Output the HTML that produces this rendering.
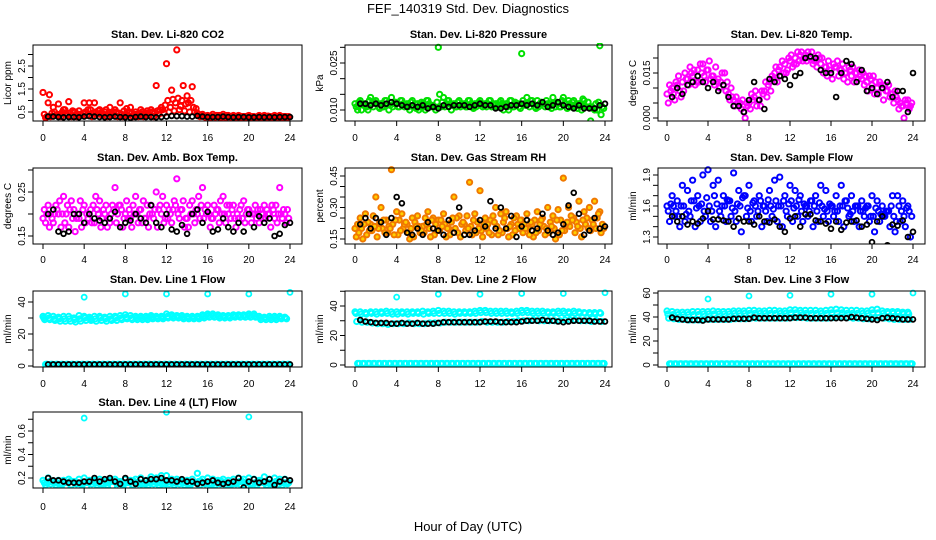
<!DOCTYPE html>
<html><head><meta charset="utf-8"><style>
html,body{margin:0;padding:0;background:#fff;}
svg{display:block;font-family:"Liberation Sans",sans-serif;}
</style></head><body>
<svg id="chart" width="936" height="540" viewBox="0 0 936 540" xmlns="http://www.w3.org/2000/svg">
<text x="468" y="13" text-anchor="middle" font-size="13">FEF_140319  Std. Dev. Diagnostics</text>
<text x="468" y="531" text-anchor="middle" font-size="13">Hour of Day (UTC)</text>
</svg>
<script>
// ---------- data ----------
const xTicks = [0,4,8,12,16,20,24];
const titles = ["Stan. Dev. Li-820 CO2","Stan. Dev. Li-820 Pressure","Stan. Dev. Li-820 Temp.","Stan. Dev. Amb. Box Temp.","Stan. Dev. Gas Stream RH","Stan. Dev. Sample Flow","Stan. Dev. Line 1 Flow","Stan. Dev. Line 2 Flow","Stan. Dev. Line 3 Flow","Stan. Dev. Line 4 (LT) Flow"];
const yTitles = ["Licor ppm","kPa","degrees C","degrees C","percent","ml/min","ml/min","ml/min","ml/min","ml/min"];

const co2A=[1.35,0.9,0.7,0.85,0.6,0.95,0.5,0.55,0.9,0.9,0.9,0.6,0.5,0.7,0.6,0.9,0.4,0.7,0.5,0.6,0.45,0.6,1.65,0.7,2.6,1.45,3.2,1.0,1.2,1.6,0.45,0.4,0.35,0.4,0.35,0.4,0.35,0.35,0.35,0.3,0.35,0.3,0.35,0.35,0.3,0.35,0.35,0.3];
const co2B=[0.4,1.25,0.5,0.4,0.6,0.45,0.5,0.4,0.5,0.6,0.5,0.45,0.6,0.4,0.5,0.4,0.65,0.45,0.4,0.5,0.55,0.5,0.55,0.6,1.0,1.05,1.1,1.65,0.9,0.7,0.4,0.35,0.3,0.3,0.35,0.3,0.3,0.3,0.32,0.3,0.3,0.28,0.3,0.3,0.3,0.3,0.3,0.3];
const co2C=[0.25,0.3,0.35,0.3,0.4,0.3,0.3,0.35,0.35,0.3,0.4,0.35,0.3,0.35,0.3,0.3,0.35,0.3,0.3,0.3,0.35,0.3,0.4,0.45,0.5,0.55,0.6,0.55,0.5,0.5,0.3,0.28,0.25,0.28,0.25,0.25,0.28,0.25,0.25,0.25,0.25,0.25,0.25,0.25,0.25,0.25,0.25,0.25];
const co2D=[0.3,0.45,0.4,0.5,0.35,0.55,0.4,0.45,0.6,0.45,0.55,0.4,0.45,0.5,0.45,0.55,0.5,0.4,0.45,0.4,0.5,0.45,0.6,0.8,0.7,0.9,0.75,0.85,1.0,0.65,0.35,0.3,0.3,0.35,0.3,0.35,0.3,0.3,0.3,0.32,0.3,0.3,0.3,0.32,0.3,0.3,0.3,0.3];
const co2Black=[0.3,0.3,0.28,0.27,0.28,0.28,0.27,0.3,0.32,0.3,0.28,0.27,0.28,0.3,0.28,0.27,0.25,0.28,0.3,0.28,0.28,0.27,0.28,0.3,0.33,0.32,0.32,0.3,0.3,0.33,0.3,0.28,0.28,0.28,0.3,0.28,0.27,0.28,0.28,0.27,0.27,0.28,0.27,0.28,0.27,0.28,0.28,0.28];

const presA=[0.012,0.013,0.012,0.014,0.013,0.012,0.013,0.014,0.012,0.013,0.012,0.013,0.012,0.012,0.013,0.011,0.030,0.014,0.013,0.012,0.013,0.012,0.013,0.012,0.013,0.012,0.013,0.012,0.013,0.012,0.013,0.012,0.028,0.014,0.013,0.013,0.012,0.012,0.014,0.012,0.014,0.013,0.013,0.012,0.013,0.011,0.010,0.0305];
const presB=[0.011,0.010,0.011,0.012,0.012,0.011,0.012,0.011,0.011,0.012,0.011,0.011,0.010,0.011,0.012,0.011,0.015,0.011,0.012,0.011,0.011,0.011,0.012,0.011,0.012,0.011,0.011,0.011,0.012,0.011,0.011,0.012,0.013,0.012,0.012,0.011,0.012,0.011,0.012,0.011,0.012,0.012,0.011,0.012,0.011,0.0065,0.012,0.0085];
const presC=[0.010,0.012,0.010,0.011,0.011,0.011,0.010,0.012,0.011,0.011,0.010,0.012,0.011,0.010,0.011,0.010,0.011,0.012,0.010,0.011,0.012,0.011,0.011,0.012,0.011,0.012,0.012,0.011,0.010,0.010,0.011,0.011,0.012,0.011,0.011,0.012,0.011,0.012,0.011,0.011,0.012,0.011,0.012,0.010,0.011,0.011,0.010,0.011];
const presD=[0.0125,0.0115,0.013,0.0125,0.0105,0.013,0.0115,0.0125,0.013,0.0115,0.0125,0.0105,0.0125,0.013,0.0115,0.0125,0.0125,0.013,0.0115,0.0125,0.0115,0.013,0.0105,0.0125,0.0115,0.013,0.0115,0.0125,0.0115,0.013,0.0125,0.0105,0.0115,0.013,0.0105,0.0125,0.013,0.0105,0.0125,0.013,0.0105,0.0125,0.0105,0.0135,0.0125,0.0105,0.0125,0.0105];
const presBlack=[0.012,0.012,0.0115,0.012,0.0115,0.012,0.0125,0.012,0.0115,0.011,0.0115,0.011,0.0115,0.0105,0.011,0.0105,0.0115,0.011,0.0115,0.0115,0.0115,0.011,0.0115,0.012,0.0115,0.0115,0.0105,0.0105,0.011,0.0115,0.0115,0.012,0.0115,0.012,0.0115,0.0125,0.011,0.0115,0.0125,0.0115,0.011,0.0105,0.0115,0.0105,0.0105,0.0105,0.0115,0.012];

const ltA=[0.008,0.01,0.011,0.012,0.013,0.014,0.016,0.018,0.016,0.014,0.013,0.011,0.008,0.006,0.004,0.002,0.005,0.007,0.006,0.009,0.012,0.015,0.017,0.018,0.019,0.02,0.021,0.021,0.02,0.019,0.018,0.017,0.016,0.017,0.016,0.015,0.014,0.015,0.013,0.012,0.011,0.01,0.01,0.009,0.008,0.006,0.004,0.006];
const ltB=[0.005,0.008,0.014,0.009,0.011,0.016,0.012,0.014,0.019,0.011,0.01,0.015,0.006,0.004,0.005,0.0,0.003,0.009,0.004,0.012,0.009,0.017,0.014,0.015,0.021,0.018,0.022,0.019,0.022,0.017,0.02,0.014,0.013,0.019,0.018,0.012,0.017,0.013,0.015,0.009,0.014,0.008,0.006,0.011,0.005,0.003,0.0,0.003];
const ltC=[0.011,0.006,0.009,0.015,0.017,0.011,0.018,0.012,0.013,0.017,0.012,0.009,0.01,0.007,0.003,0.005,0.008,0.004,0.009,0.007,0.014,0.012,0.019,0.016,0.017,0.022,0.019,0.022,0.018,0.021,0.015,0.019,0.018,0.014,0.013,0.017,0.012,0.016,0.011,0.014,0.008,0.012,0.011,0.007,0.009,0.005,0.006,0.004];
const ltD=[0.009,0.012,0.007,0.013,0.015,0.012,0.015,0.016,0.014,0.012,0.015,0.012,0.007,0.005,0.006,0.004,0.006,0.006,0.008,0.011,0.013,0.016,0.015,0.02,0.018,0.019,0.02,0.02,0.019,0.02,0.017,0.016,0.017,0.016,0.015,0.016,0.015,0.014,0.014,0.013,0.012,0.011,0.009,0.008,0.007,0.004,0.005,0.005];
const ltBlack=[0.007,0.01,0.008,0.011,0.012,0.014,0.012,0.01,0.012,0.009,0.011,0.007,0.004,0.004,0.002,0.006,0.012,0.006,0.003,0.013,0.012,0.014,0.013,0.011,0.014,0.015,0.02,0.0205,0.02,0.016,0.015,0.015,0.007,0.015,0.019,0.018,0.012,0.016,0.009,0.01,0.008,0.01,0.012,0.007,0.009,0.009,0.002,0.015];

const ambA=[0.19,0.22,0.18,0.2,0.24,0.17,0.21,0.19,0.22,0.2,0.18,0.23,0.2,0.18,0.26,0.22,0.2,0.19,0.24,0.21,0.19,0.22,0.25,0.2,0.22,0.18,0.28,0.21,0.19,0.23,0.2,0.26,0.22,0.19,0.21,0.24,0.2,0.22,0.19,0.23,0.21,0.2,0.18,0.22,0.2,0.19,0.26,0.2];
const ambB=[0.21,0.17,0.2,0.23,0.18,0.21,0.16,0.23,0.18,0.21,0.24,0.17,0.22,0.2,0.18,0.21,0.23,0.17,0.2,0.18,0.22,0.2,0.17,0.24,0.19,0.21,0.2,0.23,0.17,0.2,0.24,0.19,0.2,0.22,0.18,0.2,0.22,0.19,0.21,0.18,0.2,0.22,0.21,0.19,0.17,0.22,0.2,0.18];
const ambC=[0.18,0.2,0.22,0.17,0.2,0.23,0.19,0.17,0.2,0.18,0.21,0.19,0.17,0.22,0.2,0.17,0.19,0.22,0.18,0.23,0.17,0.19,0.21,0.18,0.21,0.23,0.19,0.17,0.22,0.18,0.19,0.21,0.17,0.2,0.23,0.18,0.19,0.17,0.22,0.2,0.18,0.19,0.2,0.21,0.22,0.18,0.19,0.21];
const ambD=[0.2,0.19,0.21,0.2,0.22,0.19,0.2,0.21,0.19,0.22,0.2,0.21,0.19,0.21,0.22,0.19,0.21,0.2,0.21,0.19,0.2,0.21,0.22,0.19,0.2,0.22,0.21,0.19,0.2,0.21,0.22,0.2,0.19,0.21,0.2,0.22,0.21,0.2,0.19,0.21,0.2,0.21,0.19,0.2,0.21,0.2,0.21,0.19];
const ambBlack=[0.2,0.21,0.16,0.155,0.16,0.2,0.2,0.18,0.2,0.19,0.185,0.18,0.19,0.205,0.17,0.18,0.185,0.2,0.19,0.18,0.22,0.18,0.17,0.2,0.165,0.16,0.175,0.155,0.2,0.21,0.18,0.205,0.16,0.165,0.19,0.17,0.16,0.18,0.16,0.2,0.17,0.195,0.18,0.19,0.15,0.155,0.175,0.18];

const rhA=[0.2,0.25,0.27,0.22,0.35,0.3,0.24,0.48,0.28,0.27,0.22,0.25,0.26,0.21,0.28,0.25,0.24,0.27,0.2,0.35,0.26,0.22,0.42,0.27,0.38,0.25,0.24,0.3,0.27,0.28,0.22,0.26,0.24,0.27,0.22,0.28,0.25,0.3,0.26,0.29,0.44,0.3,0.25,0.33,0.28,0.3,0.33,0.28];
const rhB=[0.16,0.2,0.17,0.19,0.16,0.2,0.18,0.22,0.17,0.2,0.18,0.16,0.21,0.18,0.2,0.17,0.19,0.22,0.17,0.2,0.16,0.19,0.21,0.18,0.19,0.2,0.17,0.21,0.18,0.2,0.17,0.22,0.18,0.2,0.16,0.19,0.21,0.18,0.2,0.17,0.19,0.21,0.18,0.2,0.22,0.19,0.2,0.18];
const rhC=[0.22,0.15,0.23,0.26,0.2,0.24,0.21,0.17,0.24,0.22,0.15,0.23,0.18,0.25,0.16,0.22,0.24,0.16,0.23,0.25,0.22,0.26,0.17,0.23,0.16,0.22,0.26,0.17,0.23,0.16,0.25,0.2,0.22,0.17,0.24,0.22,0.17,0.23,0.15,0.24,0.22,0.26,0.23,0.16,0.25,0.24,0.25,0.22];
const rhD=[0.18,0.22,0.19,0.21,0.23,0.18,0.2,0.24,0.19,0.23,0.2,0.21,0.19,0.22,0.24,0.19,0.21,0.2,0.25,0.18,0.23,0.2,0.24,0.2,0.22,0.18,0.23,0.19,0.25,0.21,0.19,0.24,0.2,0.23,0.18,0.24,0.2,0.21,0.24,0.19,0.23,0.24,0.21,0.24,0.2,0.22,0.27,0.2];
const rhBlack=[0.22,0.25,0.2,0.25,0.23,0.17,0.25,0.35,0.32,0.18,0.17,0.2,0.17,0.23,0.2,0.19,0.17,0.24,0.18,0.3,0.17,0.17,0.19,0.24,0.21,0.33,0.2,0.3,0.2,0.26,0.16,0.21,0.24,0.19,0.2,0.27,0.19,0.17,0.18,0.22,0.31,0.37,0.27,0.17,0.19,0.25,0.2,0.21];

const sfA=[1.6,1.7,1.65,1.8,1.75,1.85,1.7,1.9,1.95,1.8,1.85,1.7,1.65,1.92,1.75,1.7,1.8,1.65,1.7,1.6,1.75,1.85,1.88,1.7,1.8,1.75,1.7,1.6,1.65,1.7,1.8,1.75,1.6,1.7,1.8,1.65,1.7,1.6,1.65,1.6,1.7,1.65,1.6,1.55,1.7,1.7,1.65,1.6];
const sfB=[1.55,1.6,1.5,1.6,1.55,1.65,1.6,1.55,1.6,1.7,1.55,1.6,1.65,1.55,1.6,1.7,1.55,1.6,1.65,1.55,1.6,1.65,1.6,1.55,1.65,1.6,1.55,1.6,1.65,1.55,1.6,1.55,1.6,1.55,1.6,1.58,1.55,1.6,1.55,1.6,1.5,1.55,1.5,1.55,1.5,1.6,1.5,1.55];
const sfC=[1.45,1.5,1.4,1.45,1.5,1.4,1.45,1.5,1.45,1.4,1.5,1.45,1.5,1.45,1.35,1.5,1.45,1.5,1.4,1.45,1.5,1.45,1.4,1.5,1.45,1.5,1.45,1.5,1.4,1.45,1.5,1.45,1.5,1.45,1.4,1.5,1.45,1.4,1.5,1.45,1.35,1.45,1.5,1.4,1.35,1.45,1.4,1.3];
const sfD=[1.62,1.55,1.6,1.52,1.65,1.58,1.62,1.68,1.55,1.62,1.6,1.66,1.58,1.62,1.68,1.58,1.63,1.55,1.6,1.66,1.57,1.6,1.65,1.62,1.58,1.66,1.62,1.55,1.6,1.63,1.57,1.62,1.55,1.6,1.65,1.52,1.6,1.55,1.58,1.5,1.58,1.52,1.55,1.6,1.45,1.55,1.58,1.5];
const sfBlack=[1.5,1.45,1.5,1.42,1.45,1.43,1.48,1.55,1.47,1.47,1.46,1.45,1.4,1.48,1.45,1.45,1.42,1.5,1.45,1.44,1.47,1.4,1.35,1.48,1.5,1.4,1.52,1.52,1.46,1.45,1.43,1.38,1.45,1.37,1.44,1.45,1.46,1.4,1.42,1.25,1.45,1.5,1.22,1.42,1.41,1.46,1.3,1.35];

const zeroRow=[1,1,1,1,1,1,1,1,1,1,1,1,1,1,1,1,1,1,1,1,1,1,1,1,1,1,1,1,1,1,1,1,1,1,1,1,1,1,1,1,1,1,1,1,1,1,1,1];
const outlierHours=[4,8,12,16,20,24];

const l1A=[31,31.5,31,30.5,31,31,30,31.5,31,30.5,31,31,30.5,31,31,31.5,32,31.5,31,31,31,31.5,31,31,32.5,32,31.5,31.5,31,31,31,32,32.5,32.5,32,31.5,31.5,32,32,32,32.5,32.5,31,30.5,31,31,31,30.5];
const l1B=[29,29,28.5,28,28,28,27.5,28,28.5,28.5,28,28.5,28,28.5,28.5,29,29.5,29,29,29,29,29.5,29.5,29.5,30,30,30,29.5,29.5,29.5,29.5,30,30.5,30.5,30,30,30,30.5,30.5,30.5,30.5,30.5,29,29,29,29,29.5,29.5];
const l1C=[30,30,29.5,29.5,29.5,29.5,29,29.5,30,29.5,29.5,30,29.5,29.5,30,30,30.5,30,30,30,30,30.5,30,30.5,31,31,31,30.5,30.5,30,30.5,31,31.5,31.5,31,31,31,31,31.5,31.5,31.5,31.5,30,30,30,30,30,30];
const l1Out=[43,45,45,45,45,46];
const l1Black=zeroRow;

const l2A=[36,36,35.5,36,36,36,36.5,36,36,36,36,36,36,36.5,36,36.5,37,36.5,36.5,36,36,36,36,36.5,37,37,36.5,36.5,36.5,36.5,36,36.5,37,37,36.5,36.5,36.5,36,36,36.5,36.5,36,36.5,36,35.5,35.5,35.5,35.5];
const l2B=[35,34.5,34.5,35,34.5,35,35,34.5,34.5,35,34.5,35,35,34.5,35,35,35,35,35,34.5,35,35,35,35,35.5,35.5,35,35,35,35,35,35,35.5,35.5,35,35,35,35,35,35,35,35,35,35,35,34.5,34.5,35];
const l2C=[29.5,29,29,28.5,28,28,27.5,28,28,28,28.5,28,28,28,28.5,28.5,28.5,29,29,29,29,29,29,29,29.5,29,29,29,29,29.5,29.5,30,30,30,30.5,30,30,30,30,30,30.5,30.5,30.5,30,30,29.5,30,29.5];
const l2Out=[46,48,48,48.5,48.5,49];
const l2Black=[30.5,29.5,29,28.5,28.5,28.5,28,28,28.5,28,28,28.5,28,28,28,28.5,29,29,29,29,29,29,29,29,29.5,29.5,29.5,29,29,29,29,29.5,30,30,30,30.5,30,30,29.5,29,29.5,30,30,30,30,29.5,29.5,29.5];

const l3A=[45,44.5,44,44,44,44.5,44.5,44.5,44.5,45,44.5,44.5,44.5,45,45,45,45.5,45.5,45,45,45.5,45.5,45,45,46,46,45.5,45.5,45.5,45.5,45,45.5,46,46.5,46,45.5,45.5,45.5,45,45,46,46.5,45,44.5,44.5,44.5,44,44];
const l3B=[42.5,42,42,42,42,42,42,42.5,42.5,42.5,42.5,42.5,42.5,43,43,43,43,43,43,43,43,43,43,43,43.5,43.5,43.5,43,43,43,43,43,43.5,43.5,43.5,43,43,43,43,43,43.5,43.5,43,43,43,43,42.5,42.5];
const l3C=[39,38.5,38,38,37.5,37.5,37.5,38,38,38,38,38,38,38.5,38.5,38.5,39,39,39,39,39,39,39,39,39.5,39.5,39.5,39,39,39,39,39,39.5,40,40,39.5,39,39,38.5,38.5,39,39.5,39,38.5,38,38,38,38];
const l3Out=[55,57.5,58,59,59,60];
const l3Black=[39.5,38.5,38,37.5,37.5,37.5,37,38,38,38,38,38,38.5,38.5,38.5,38.5,39.5,39,39,39,39,39,39,39,39.5,39.5,39.5,39,39,39,39,39,39,39,39,40,39.5,39,38.5,38,37.5,39,39.5,39,38.5,38,38,38];

const l4A=[0.18,0.2,0.17,0.18,0.18,0.19,0.17,0.19,0.2,0.18,0.18,0.19,0.17,0.18,0.19,0.17,0.19,0.18,0.19,0.2,0.18,0.21,0.2,0.22,0.22,0.19,0.19,0.18,0.18,0.19,0.24,0.19,0.2,0.19,0.18,0.19,0.18,0.19,0.2,0.19,0.2,0.19,0.18,0.21,0.19,0.2,0.19,0.19];
const l4B=[0.14,0.15,0.14,0.15,0.13,0.14,0.15,0.14,0.13,0.15,0.14,0.15,0.14,0.13,0.15,0.14,0.13,0.14,0.15,0.13,0.14,0.15,0.14,0.13,0.15,0.14,0.15,0.14,0.14,0.13,0.14,0.15,0.14,0.14,0.15,0.14,0.14,0.15,0.14,0.13,0.15,0.14,0.12,0.14,0.15,0.14,0.14,0.15];
const l4C=[0.16,0.17,0.16,0.15,0.16,0.17,0.16,0.15,0.16,0.17,0.16,0.15,0.16,0.17,0.16,0.15,0.16,0.17,0.16,0.15,0.16,0.17,0.16,0.15,0.17,0.16,0.17,0.16,0.15,0.16,0.17,0.16,0.15,0.16,0.17,0.16,0.15,0.16,0.17,0.16,0.15,0.16,0.17,0.16,0.15,0.17,0.16,0.16];
const l4OutHours=[4,12,20];
const l4Out=[0.71,0.76,0.72];
const l4Black=[0.2,0.18,0.18,0.17,0.16,0.16,0.16,0.17,0.17,0.2,0.17,0.19,0.2,0.17,0.15,0.2,0.17,0.15,0.19,0.18,0.19,0.19,0.2,0.18,0.18,0.17,0.19,0.17,0.17,0.15,0.16,0.17,0.18,0.16,0.15,0.16,0.17,0.2,0.12,0.17,0.19,0.16,0.17,0.19,0.14,0.17,0.19,0.18];

const yTickVals=[[0.5,1,1.5,2,2.5,3],[0.010,0.015,0.020,0.025,0.030],[0,0.005,0.010,0.015,0.020],[0.15,0.2,0.25,0.3],[0.15,0.2,0.25,0.3,0.35,0.4,0.45],[1.3,1.4,1.5,1.6,1.7,1.8,1.9],[0,10,20,30,40],[0,10,20,30,40,50],[0,10,20,30,40,50,60],[0.2,0.3,0.4,0.5,0.6,0.7]];
const yTickLabels=[["0.5","","1.5","","2.5",""],["0.010","","","0.025",""],["0.000","","","0.015",""],["0.15","","0.25",""],["0.15","","","0.30","","","0.45"],["1.3","","","1.6","","","1.9"],["0","","20","","40"],["0","","20","","40",""],["0","","20","","40","","60"],["0.2","","0.4","","0.6",""]];

// ---------- layout ----------
const cols=[{L:33,R:302,x0:43,x1:290},{L:345,R:612,x0:355,x1:605},{L:658,R:925,x0:667,x1:913}];
const rows=[{T:45,B:121,tt:38,lab:141},{T:168,B:244,tt:161,lab:263},{T:291,B:367,tt:283,lab:387},{T:412,B:488,tt:406,lab:510}];
const yCal=[[0.5,112,2.5,66],[0.010,110,0.025,63],[0,118,0.015,73],[0.15,236,0.25,192],[0.15,239,0.45,176],[1.3,237,1.9,175],[0,366,40,302],[0,365,40,306],[0,365,60,293],[0.2,478,0.6,431]];
const colorRed="#ff0000",colorGreen="#00e000",colorMag="#ff00ff",colorBlue="#0000ff",colorCyan="#00ffff",colorRH="#f07800";

const panels=[
 {rows:[co2A,co2B,co2C,co2D],black:co2Black,col:colorRed},
 {rows:[presA,presB,presC,presD],black:presBlack,col:colorGreen},
 {rows:[ltA,ltB,ltC,ltD],black:ltBlack,col:colorMag},
 {rows:[ambA,ambB,ambC,ambD],black:ambBlack,col:colorMag},
 {rows:[rhA,rhB,rhC,rhD],black:rhBlack,col:colorRH,fill:"#ffd000"},
 {rows:[sfA,sfB,sfC,sfD],black:sfBlack,col:colorBlue},
 {rows:[l1A,l1C,l1B,zeroRow,zeroRow,zeroRow],black:l1Black,col:colorCyan,outH:outlierHours,out:l1Out},
 {rows:[l2A,l2B,l2C,zeroRow,zeroRow,zeroRow],black:l2Black,col:colorCyan,outH:outlierHours,out:l2Out},
 {rows:[l3A,l3B,l3C,zeroRow,zeroRow,zeroRow],black:l3Black,col:colorCyan,outH:outlierHours,out:l3Out},
 {rows:[l4A,l4C,l4B,l4C],black:l4Black,col:colorCyan,outH:l4OutHours,out:l4Out}
];

const svg=document.getElementById('chart');
const NS="http://www.w3.org/2000/svg";
function mk(tag,attrs,parent){const e=document.createElementNS(NS,tag);for(const k in attrs)e.setAttribute(k,attrs[k]);parent.appendChild(e);return e;}

panels.forEach((p,pi)=>{
  const c=cols[pi%3], r=rows[Math.floor(pi/3)];
  const g=mk('g',{},svg);
  
  
  const xs=h=>c.x0+(c.x1-c.x0)*h/24;
  const cal=yCal[pi];
  const ys=v=>cal[1]+(v-cal[0])*(cal[3]-cal[1])/(cal[2]-cal[0]);
  const t=mk('text',{x:(c.L+c.R)/2,y:r.tt,'text-anchor':'middle','font-size':11,'font-weight':'bold'},g);
  t.textContent=titles[pi];
  
  
  const yc=(r.T+r.B)/2;
  const yt=mk('text',{x:0,y:0,'text-anchor':'middle','font-size':10,transform:`translate(${c.L-22},${yc}) rotate(-90)`},g);
  yt.textContent=yTitles[pi];
  
  
  const cp=mk('clipPath',{id:'cp'+pi},g);
  mk('rect',{x:c.L,y:r.T-2,width:c.R-c.L,height:r.B-r.T+2},cp);
  const pg=mk('g',{'clip-path':`url(#cp${pi})`},g);
  p.rows.forEach((arr,ri)=>{
    arr.forEach((v,i)=>{
      const h=i*0.5+ri*0.5/p.rows.length;
      const ci=mk('circle',{cx:xs(h),cy:ys(v),r:2.6,fill:p.fill||'none',stroke:p.col,'stroke-width':2},pg);
      
      
    });
  });
  if(p.out){p.out.forEach((v,i)=>{
    const ci=mk('circle',{cx:xs(p.outH[i]),cy:ys(v),r:2.5,fill:'none',stroke:p.col,'stroke-width':1.8},pg);
    
    
  });}
  p.black.forEach((v,i)=>{
    const ci=mk('circle',{cx:xs(0.5+i*0.5),cy:ys(v),r:2.4,fill:'none',stroke:'#000','stroke-width':1.8},pg);
    
    
  });
  const bx=mk('rect',{x:c.L,y:r.T,width:c.R-c.L,height:r.B-r.T,fill:'none',stroke:'#000','stroke-width':1},g);
  
  
  mk('line',{x1:xs(0),x2:xs(24),y1:r.B,y2:r.B,stroke:'#000'},g);
  xTicks.forEach(h=>{
    mk('line',{x1:xs(h),x2:xs(h),y1:r.B,y2:r.B+5,stroke:'#000'},g);
    const lt=mk('text',{x:xs(h),y:r.lab,'text-anchor':'middle','font-size':10},g);
    lt.textContent=String(h);
    
    
  });
  const tv=yTickVals[pi];
  mk('line',{x1:c.L,x2:c.L,y1:ys(tv[0]),y2:ys(tv[tv.length-1]),stroke:'#000'},g);
  tv.forEach((v,i)=>{
    const y=ys(v);
    mk('line',{x1:c.L-5,x2:c.L,y1:y,y2:y,stroke:'#000'},g);
    const lbl=yTickLabels[pi][i];
    if(lbl){
      const lt=mk('text',{x:0,y:0,'text-anchor':'middle','font-size':10,transform:`translate(${c.L-8},${y}) rotate(-90)`},g);
      lt.textContent=lbl;
      
      
    }
  });
});
</script>
</body></html>
